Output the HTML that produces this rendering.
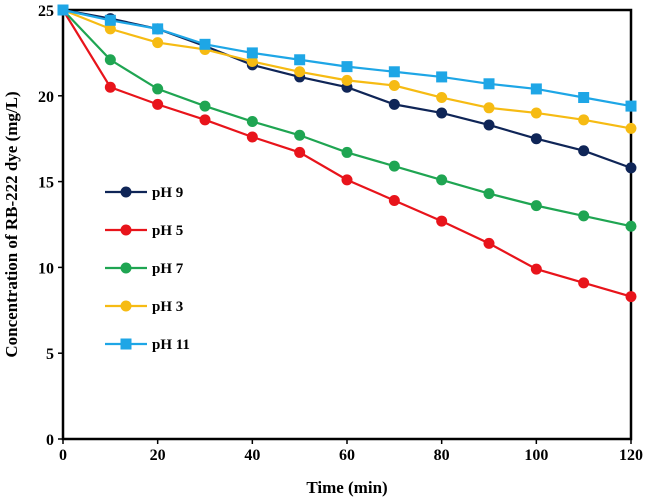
<!DOCTYPE html>
<html><head><meta charset="utf-8"><style>
body{margin:0;background:#fff;}
svg text{font-family:"Liberation Serif",serif;font-weight:bold;fill:#000;}
</style></head><body>
<svg id="c" width="646" height="499"></svg>
<script>
const times=[0,10,20,30,40,50,60,70,80,90,100,110,120];
const ph9=[25,24.5,23.9,22.9,21.8,21.1,20.5,19.5,19.0,18.3,17.5,16.8,15.8];
const ph5=[25,20.5,19.5,18.6,17.6,16.7,15.1,13.9,12.7,11.4,9.9,9.1,8.3];
const ph7=[25,22.1,20.4,19.4,18.5,17.7,16.7,15.9,15.1,14.3,13.6,13.0,12.4];
const ph3=[25,23.9,23.1,22.7,22.0,21.4,20.9,20.6,19.9,19.3,19.0,18.6,18.1];
const ph11=[25,24.4,23.9,23.0,22.5,22.1,21.7,21.4,21.1,20.7,20.4,19.9,19.4];
const xTicks=[0,20,40,60,80,100,120];
const yTicks=[0,5,10,15,20,25];
const seriesNames=["pH 9","pH 5","pH 7","pH 3","pH 11"];
const L=63,R=631,T=10,B=439;
const xs=v=>L+(v/120)*(R-L), ys=v=>B-(v/25)*(B-T);
const svg=document.getElementById('c');const NS="http://www.w3.org/2000/svg";
function el(t,a,p){const e=document.createElementNS(NS,t);for(const k in a)e.setAttribute(k,a[k]);(p||svg).appendChild(e);return e;}
const frame=el('rect',{x:L,y:T,width:R-L,height:B-T,fill:'none',stroke:'#000','stroke-width':2.5});


xTicks.forEach(v=>{el('line',{x1:xs(v),x2:xs(v),y1:B,y2:B+5,stroke:'#000','stroke-width':1.5});
const t=el('text',{x:xs(v),y:B+21,'text-anchor':'middle','font-size':16});t.textContent=v;

});
yTicks.forEach(v=>{el('line',{x1:L-5,x2:L,y1:ys(v),y2:ys(v),stroke:'#000','stroke-width':1.5});
const t=el('text',{x:L-9,y:ys(v)+6,'text-anchor':'end','font-size':16});t.textContent=v;

});
const xt=el('text',{x:(L+R)/2,y:493,'text-anchor':'middle','font-size':17});xt.textContent='Time (min)';


const yt=el('text',{x:0,y:0,'text-anchor':'middle','font-size':17,transform:`translate(17,${(T+B)/2}) rotate(-90)`});yt.textContent='Concentration of RB-222 dye (mg/L)';


const series=[[ph9,'#0f2557','c'],[ph5,'#e8141b','c'],[ph7,'#1fa552','c'],[ph3,'#f6bb13','c'],[ph11,'#1ea6e6','s']];
series.forEach((s,i)=>{const [d,col,m]=s;
const g=el('g',{});

el('polyline',{points:d.map((v,j)=>xs(times[j])+','+ys(v)).join(' '),fill:'none',stroke:col,'stroke-width':2.2},g);
d.forEach((v,j)=>{let mk;if(m==='c')mk=el('circle',{cx:xs(times[j]),cy:ys(v),r:5.5,fill:col},g);
else mk=el('rect',{x:xs(times[j])-5.5,y:ys(v)-5.5,width:11,height:11,fill:col},g);

});
const ly=192+i*38;
const lg=el('g',{});

el('line',{x1:105,x2:147,y1:ly,y2:ly,stroke:col,'stroke-width':2.2},lg);
if(m==='c')el('circle',{cx:126,cy:ly,r:5.5,fill:col},lg);else el('rect',{x:120.5,y:ly-5.5,width:11,height:11,fill:col},lg);
const t=el('text',{x:152,y:ly+5,'font-size':15},lg);t.textContent=seriesNames[i];});
</script></body></html>
